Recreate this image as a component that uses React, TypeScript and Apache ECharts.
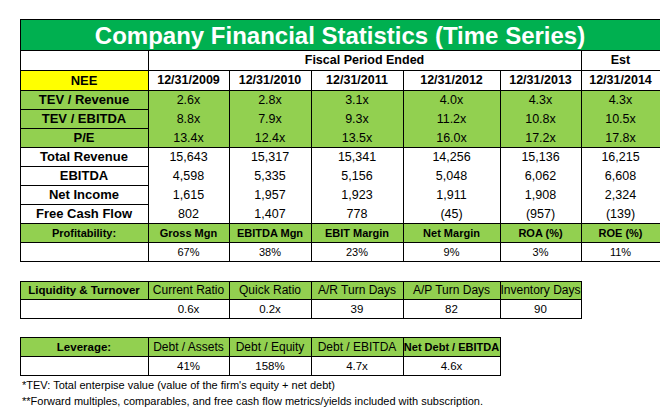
import React, { useEffect, useRef } from "react";
import * as echarts from "echarts";

const ticker = "NEE";
const title = "Company Financial Statistics (Time Series)";
const periodHeader = "Fiscal Period Ended";
const estHeader = "Est";
const periods = ["12/31/2009", "12/31/2010", "12/31/2011", "12/31/2012", "12/31/2013", "12/31/2014"];
const tevRevenue = [2.6, 2.8, 3.1, 4.0, 4.3, 4.3];
const tevEbitda = [8.8, 7.9, 9.3, 11.2, 10.8, 10.5];
const peRatio = [13.4, 12.4, 13.5, 16.0, 17.2, 17.8];
const totalRevenue = [15643, 15317, 15341, 14256, 15136, 16215];
const ebitda = [4598, 5335, 5156, 5048, 6062, 6608];
const netIncome = [1615, 1957, 1923, 1911, 1908, 2324];
const freeCashFlow = [802, 1407, 778, -45, -957, -139];
const multipleLabels = ["TEV / Revenue", "TEV / EBITDA", "P/E"];
const amountLabels = ["Total Revenue", "EBITDA", "Net Income", "Free Cash Flow"];
const profitTitle = "Profitability:";
const profitLabels = ["Gross Mgn", "EBITDA Mgn", "EBIT Margin", "Net Margin", "ROA (%)", "ROE (%)"];
const profitValues = [67, 38, 23, 9, 3, 11];
const liquidityTitle = "Liquidity & Turnover";
const liquidityLabels = ["Current Ratio", "Quick Ratio", "A/R Turn Days", "A/P Turn Days", "Inventory Days"];
const liquidityValues = ["0.6x", "0.2x", "39", "82", "90"];
const leverageTitle = "Leverage:";
const leverageLabels = ["Debt / Assets", "Debt / Equity", "Debt / EBITDA", "Net Debt / EBITDA"];
const leverageValues = ["41%", "158%", "4.7x", "4.6x"];
const footnotes = [
  "*TEV: Total enterpise value (value of the firm's equity + net debt)",
  "**Forward multiples, comparables, and free cash flow metrics/yields included with subscription.",
];

const FONT = "'Liberation Sans', Arial, Helvetica, sans-serif";
const DARK_GREEN = "#00B050";
const GREEN = "#92D050";
const YELLOW = "#FFFF00";
const INK = "#000000";

// layout
const COLS = [20, 148, 229, 311, 403, 500, 581, 660];
const ROWS = [19, 50, 70, 90, 109, 128, 147, 166, 185, 204, 223, 242, 261];
const LIQ_ROWS = [281, 299, 318];
const LEV_ROWS = [337, 356, 375];

const fmtMult = (v: number) => v.toFixed(1) + "x";
const fmtAmt = (v: number) => (v < 0 ? "(" + Math.abs(v).toLocaleString("en-US") + ")" : v.toLocaleString("en-US"));

function txt(text: string, x: number, y: number, size: number, weight: string | number, fill = INK, align = "center") {
  return {
    type: "text",
    silent: true,
    z: 10,
    style: {
      text,
      x,
      y,
      fill,
      fontSize: size,
      fontWeight: weight,
      fontFamily: FONT,
      align,
      verticalAlign: "middle",
      textAlign: align,
      textVerticalAlign: "middle",
    },
  };
}
function box(x1: number, y1: number, x2: number, y2: number, fill: string) {
  return { type: "rect", silent: true, z: 1, shape: { x: x1, y: y1, width: x2 - x1, height: y2 - y1 }, style: { fill } };
}
function hl(x1: number, x2: number, y: number) {
  return { type: "rect", silent: true, z: 5, shape: { x: x1, y, width: x2 - x1 + 1, height: 1 }, style: { fill: INK } };
}
function vl(x: number, y1: number, y2: number) {
  return { type: "rect", silent: true, z: 5, shape: { x, y: y1, width: 1, height: y2 - y1 + 1 }, style: { fill: INK } };
}
const mid = (a: number, b: number) => (a + b) / 2;

function buildElements() {
  const els: any[] = [];
  const L = COLS[0];
  const R = COLS[COLS.length - 1];
  // fills
  els.push(box(L, ROWS[0], R, ROWS[1], DARK_GREEN));
  els.push(box(L, ROWS[2], COLS[1], ROWS[3], YELLOW));
  els.push(box(L, ROWS[3], R, ROWS[6], GREEN));
  els.push(box(L, ROWS[10], R, ROWS[11], GREEN));
  // main lines
  [0, 1, 2, 3, 6, 10, 11, 12].forEach((i) => els.push(hl(L, R, ROWS[i])));
  [4, 5, 7, 8, 9].forEach((i) => els.push(hl(L, COLS[1], ROWS[i])));
  els.push(vl(L, ROWS[0], ROWS[12]));
  els.push(vl(COLS[1], ROWS[1], ROWS[12]));
  els.push(vl(COLS[6], ROWS[1], ROWS[12]));
  for (let c = 2; c <= 5; c++) els.push(vl(COLS[c], ROWS[2], ROWS[12]));

  // main texts
  els.push(txt(title, mid(L, R), mid(ROWS[0], ROWS[1]) + 1, 24, "bold", "#FFFFFF"));
  els.push(txt(periodHeader, mid(COLS[1], COLS[6]), mid(ROWS[1], ROWS[2]), 12.5, "bold"));
  els.push(txt(estHeader, mid(COLS[6], COLS[7]), mid(ROWS[1], ROWS[2]), 12.5, "bold"));
  els.push(txt(ticker, mid(L, COLS[1]), mid(ROWS[2], ROWS[3]), 13, "bold"));
  periods.forEach((p, i) => els.push(txt(p, mid(COLS[i + 1], COLS[i + 2]), mid(ROWS[2], ROWS[3]), 12.5, "bold")));

  const multSeries = [tevRevenue, tevEbitda, peRatio];
  multSeries.forEach((s, r) => {
    const y = mid(ROWS[3 + r], ROWS[4 + r]);
    els.push(txt(multipleLabels[r], mid(L, COLS[1]), y, 13, "bold"));
    s.forEach((v, i) => els.push(txt(fmtMult(v), mid(COLS[i + 1], COLS[i + 2]), y, 12.5, "normal")));
  });
  const amtSeries = [totalRevenue, ebitda, netIncome, freeCashFlow];
  amtSeries.forEach((s, r) => {
    const y = mid(ROWS[6 + r], ROWS[7 + r]);
    els.push(txt(amountLabels[r], mid(L, COLS[1]), y, 13, "bold"));
    s.forEach((v, i) => els.push(txt(fmtAmt(v), mid(COLS[i + 1], COLS[i + 2]), y, 12.5, "normal")));
  });
  {
    const y = mid(ROWS[10], ROWS[11]);
    els.push(txt(profitTitle, mid(L, COLS[1]), y, 11, "bold"));
    profitLabels.forEach((p, i) => els.push(txt(p, mid(COLS[i + 1], COLS[i + 2]), y, 11, "bold")));
    const y2 = mid(ROWS[11], ROWS[12]);
    profitValues.forEach((v, i) => els.push(txt(v + "%", mid(COLS[i + 1], COLS[i + 2]), y2, 11, "normal")));
  }

  // liquidity table
  {
    const R2 = COLS[6];
    els.push(box(L, LIQ_ROWS[0], R2, LIQ_ROWS[1], GREEN));
    LIQ_ROWS.forEach((y) => els.push(hl(L, R2, y)));
    els.push(vl(L, LIQ_ROWS[0], LIQ_ROWS[2]));
    els.push(vl(COLS[1], LIQ_ROWS[0], LIQ_ROWS[1]));
    for (let c = 2; c <= 6; c++) els.push(vl(COLS[c], LIQ_ROWS[0], LIQ_ROWS[2]));
    const y = mid(LIQ_ROWS[0], LIQ_ROWS[1]);
    const y2 = mid(LIQ_ROWS[1], LIQ_ROWS[2]);
    els.push(txt(liquidityTitle, mid(L, COLS[1]), y, 11.5, "bold"));
    liquidityLabels.forEach((p, i) => els.push(txt(p, mid(COLS[i + 1], COLS[i + 2]), y, 12, "normal")));
    liquidityValues.forEach((p, i) => els.push(txt(p, mid(COLS[i + 1], COLS[i + 2]), y2, 11.5, "normal")));
  }

  // leverage table
  {
    const R3 = COLS[5];
    els.push(box(L, LEV_ROWS[0], R3, LEV_ROWS[1], GREEN));
    LEV_ROWS.forEach((y) => els.push(hl(L, R3, y)));
    for (let c = 0; c <= 5; c++) els.push(vl(COLS[c], LEV_ROWS[0], LEV_ROWS[2]));
    const y = mid(LEV_ROWS[0], LEV_ROWS[1]);
    const y2 = mid(LEV_ROWS[1], LEV_ROWS[2]);
    els.push(txt(leverageTitle, mid(L, COLS[1]), y, 11.5, "bold"));
    leverageLabels.forEach((p, i) => {
      const last = i === leverageLabels.length - 1;
      els.push(txt(p, mid(COLS[i + 1], COLS[i + 2]), y, last ? 11 : 12, last ? "bold" : "normal"));
    });
    leverageValues.forEach((p, i) => els.push(txt(p, mid(COLS[i + 1], COLS[i + 2]), y2, 11.5, "normal")));
  }

  // footnotes
  els.push(txt(footnotes[0], 22, 385, 11, "normal", INK, "left"));
  els.push(txt(footnotes[1], 22, 401, 11, "normal", INK, "left"));
  return els;
}

export default function App() {
  const ref = useRef<HTMLDivElement>(null);
  useEffect(() => {
    if (!ref.current) return;
    const chart = echarts.init(ref.current, undefined, { renderer: "svg" });
    chart.setOption({
      animation: false,
      backgroundColor: "#FFFFFF",
      graphic: { elements: buildElements() },
    });
    return () => chart.dispose();
  }, []);
  return (
    <div
      ref={ref}
      style={{ position: "absolute", left: 0, top: 0, width: 660, height: 410, background: "#fff" }}
    />
  );
}
